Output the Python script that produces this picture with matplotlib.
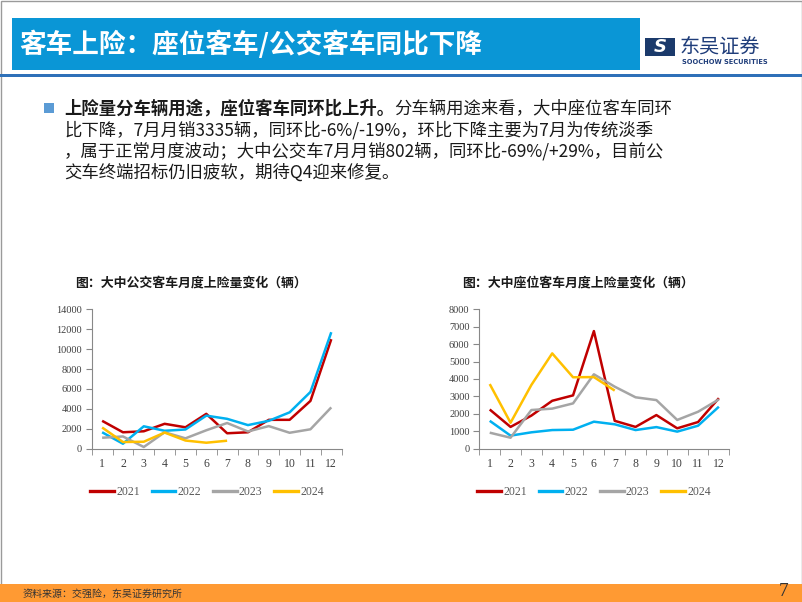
import matplotlib
matplotlib.use("Agg")
import matplotlib.pyplot as plt
from matplotlib.patches import Rectangle
from matplotlib.lines import Line2D

plt.rcParams['font.family'] = ['Noto Sans CJK SC', 'DejaVu Sans']

# data
months = list(range(1, 13))
years = ["2021", "2022", "2023", "2024"]
colors = ["#C00000", "#00B0F0", "#A5A5A5", "#FFC000"]

bus_2021 = [2800, 1650, 1750, 2500, 2150, 3500, 1550, 1650, 2900, 2900, 4800, 11000]
bus_2022 = [1650, 500, 2250, 1800, 1930, 3320, 3000, 2370, 2800, 3650, 5700, 11700]
bus_2023 = [1100, 1230, 170, 1650, 1040, 1850, 2580, 1730, 2270, 1600, 1950, 4150]
bus_2024 = [2130, 670, 700, 1620, 820, 600, 802]

seat_2021 = [2250, 1250, 1900, 2750, 3060, 6750, 1600, 1250, 1930, 1170, 1530, 2900]
seat_2022 = [1600, 750, 940, 1070, 1090, 1550, 1400, 1070, 1240, 980, 1320, 2410]
seat_2023 = [920, 630, 2220, 2300, 2600, 4270, 3560, 2950, 2790, 1650, 2120, 2830]
seat_2024 = [3710, 1490, 3660, 5470, 4100, 4110, 3335]

W, H = 802, 602
fig = plt.figure(figsize=(W / 100, H / 100), dpi=100)

# slide background layer in pixel coords
bg = fig.add_axes([0, 0, 1, 1])
bg.set_xlim(0, W)
bg.set_ylim(H, 0)
bg.axis("off")

bg.add_patch(Rectangle((0.5, 0.5), W - 1, H - 1, fill=False, ec="#9A9A9A", lw=1))
bg.add_patch(Rectangle((12, 18), 628, 52, fc="#0A96D6", ec="none"))
bg.add_patch(Rectangle((0, 74), W, 3, fc="#2E70B8", ec="none"))
bg.text(19, 45, "客车上险：座位客车/公交客车同比下降", color="white",
        fontsize=19.2, fontweight="bold", va="center", ha="left")

# logo
bg.add_patch(Rectangle((645, 38), 30, 18, fc="#1B3A6B", ec="none"))
bg.text(660, 47, "S", color="white", fontsize=13, fontweight="bold",
        style="italic", ha="center", va="center", family="DejaVu Sans")
bg.text(680, 47, "东吴证券", color="#1F3D7A", fontsize=14.5, va="center", ha="left")
bg.text(682, 62, "SOOCHOW SECURITIES", color="#1F3D7A", fontsize=4.8,
        fontweight="bold", va="center", ha="left", family="DejaVu Sans")

# bullet text
bg.add_patch(Rectangle((44, 103), 10, 10, fc="#5B9BD5", ec="none"))
fs = 12.5
t1 = bg.text(64, 108.5, "上险量分车辆用途，座位客车同环比上升。", fontsize=fs,
             fontweight="bold", va="center", ha="left", color="#1a1a1a")
r = fig.canvas.get_renderer()
bb = t1.get_window_extent(renderer=r)
x_end = bg.transData.inverted().transform((bb.x1, bb.y0))[0]
bg.text(x_end, 108.5, "分车辆用途来看，大中座位客车同环", fontsize=fs,
        va="center", ha="left", color="#1a1a1a")
body = [
    "比下降，7月月销3335辆，同环比-6%/-19%，环比下降主要为7月为传统淡季",
    "，属于正常月度波动；大中公交车7月月销802辆，同环比-69%/+29%，目前公",
    "交车终端招标仍旧疲软，期待Q4迎来修复。",
]
for i, line in enumerate(body):
    bg.text(64, 130 + 21.5 * i, line, fontsize=fs, va="center", ha="left",
            color="#1a1a1a")

# chart titles
bg.text(75, 283, "图：大中公交客车月度上险量变化（辆）", fontsize=9.3,
        fontweight="bold", va="center", ha="left", color="#1a1a1a")
bg.text(462, 283, "图：大中座位客车月度上险量变化（辆）", fontsize=9.3,
        fontweight="bold", va="center", ha="left", color="#1a1a1a")

# footer
bg.add_patch(Rectangle((0, 584), W, 18, fc="#FF9A33", ec="none"))
bg.text(23, 594, "资料来源：交强险，东吴证券研究所", fontsize=7.2, va="center",
        ha="left", color="#333333")
bg.text(784, 591, "7", fontsize=14, va="center", ha="center", color="#333333",
        family="Liberation Serif")


def draw_chart(rect, series, ymax, step, legend_x):
    ax = fig.add_axes(rect)
    ax.patch.set_alpha(0)
    for vals, c in zip(series, colors):
        ax.plot(months[:len(vals)], vals, color=c, lw=1.8, solid_capstyle="butt")
    ax.set_xlim(0.5, 12.5)
    ax.set_ylim(0, ymax)
    ax.set_yticks(range(0, ymax + 1, step))
    ax.set_xticks(months)
    ax.set_xticks([m + 0.5 for m in range(0, 13)], minor=True)
    ax.tick_params(axis="x", which="major", length=0, pad=7, labelsize=8.5,
                   labelcolor="#404040")
    ax.tick_params(axis="x", which="minor", length=4, color="#888888")
    ax.tick_params(axis="y", length=4, color="#888888", labelsize=7.5,
                   labelcolor="#404040", pad=3)
    for lab in ax.get_xticklabels() + ax.get_yticklabels():
        lab.set_family("Liberation Serif")
    for s in ["top", "right"]:
        ax.spines[s].set_visible(False)
    for s in ["left", "bottom"]:
        ax.spines[s].set_color("#888888")
        ax.spines[s].set_linewidth(0.8)
    handles = [Line2D([], [], color=c, lw=2.4) for c in colors]
    fig.legend(handles, years, loc="center", bbox_to_anchor=(legend_x / W, 1 - 492 / H),
               ncol=4, frameon=False, handlelength=2.0, handletextpad=0.2,
               columnspacing=1.0, labelcolor="#595959",
               prop={"family": "Liberation Serif", "size": 8.5})
    return ax


draw_chart([91.7 / W, 1 - 448.7 / H, 250 / W, 139.4 / H],
           [bus_2021, bus_2022, bus_2023, bus_2024], 14000, 2000, 207)
draw_chart([479.3 / W, 1 - 448.7 / H, 250 / W, 139.4 / H],
           [seat_2021, seat_2022, seat_2023, seat_2024], 8000, 1000, 594)

fig.savefig("out.png", dpi=100)
